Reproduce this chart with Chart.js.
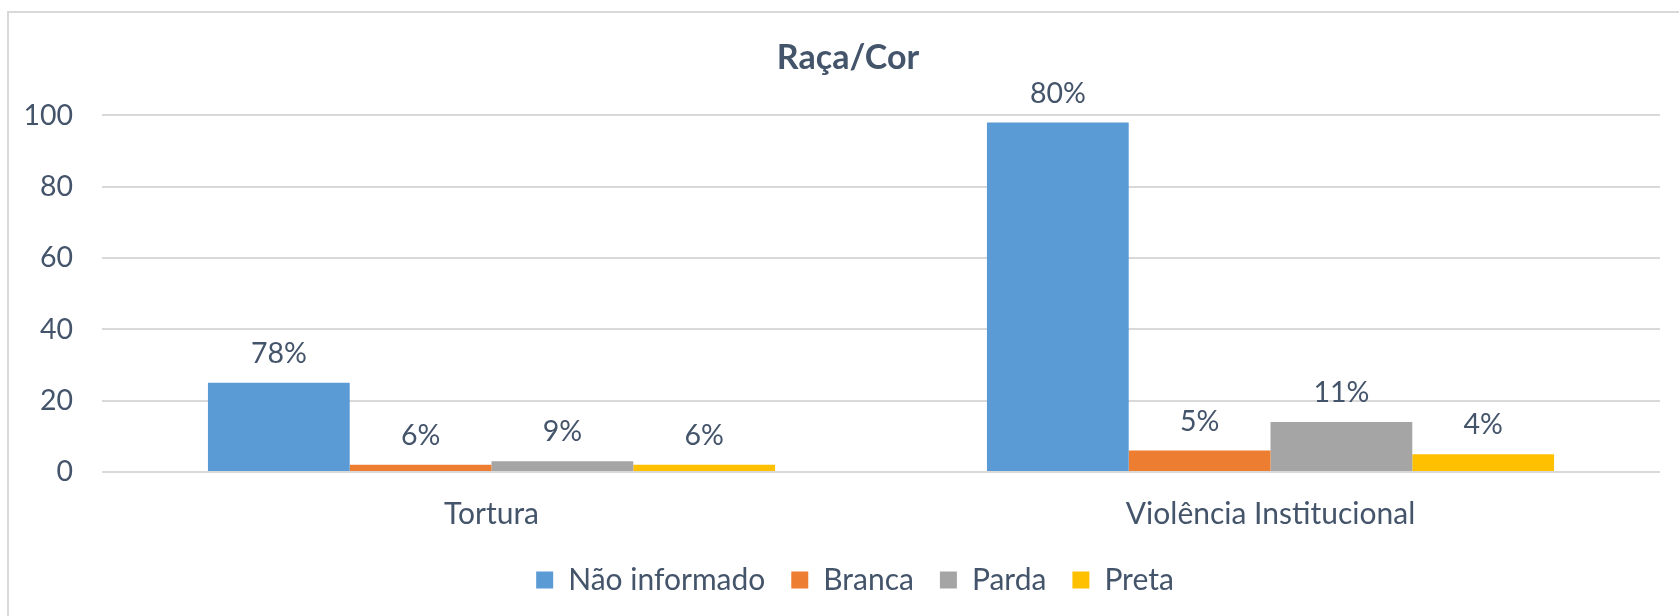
<!DOCTYPE html>
<html>
<head>
<meta charset="utf-8">
<script src="https://cdn.jsdelivr.net/npm/chart.js@4.4.1/dist/chart.umd.min.js"></script>
<style>
  html, body { margin: 0; padding: 0; background: #fff; overflow: hidden; }
  #wrap { position: absolute; left: 0; top: 0; width: 1679px; height: 616px; overflow: hidden; }
  #frame { position: absolute; left: 7px; top: 11px; width: 1672px; height: 605px;
           border-left: 2px solid #d9d9d9; border-top: 2px solid #d9d9d9; box-sizing: border-box; }
  canvas { position: absolute; left: 0; top: 0; }
</style>
</head>
<body>
<div id="wrap">
  <div id="frame"></div>
  <canvas id="chart" width="1679" height="616"></canvas>
</div>
<script>
// Data
const categories = ['Tortura', 'Violência Institucional'];
const seriesNames = ['Não informado', 'Branca', 'Parda', 'Preta'];
const naoInformado = [25, 98];
const branca = [2, 6];
const parda = [3, 14];
const preta = [2, 5];
const pctLabels = [
    ['78%', '80%'],
    ['6%', '5%'],
    ['9%', '11%'],
    ['6%', '4%']
];
const yTicks = [0, 20, 40, 60, 80, 100];
const chartTitle = 'Raça/Cor';

const colors = ['#5B9BD5', '#ED7D31', '#A5A5A5', '#FFC000'];
const textColor = '#44546A';
const fontFamily = 'Lato, "Open Sans", sans-serif';

const seriesValues = [naoInformado, branca, parda, preta];

// percentages over the bars + title (drawn here so it can sit off-centre like the original)
const barLabels = {
    id: 'barLabels',
    afterLayout(chart) {
        // legend in the original sits a bit right of centre
        chart.legend.left += 50;
    },
    afterDatasetsDraw(chart) {
        const ctx = chart.ctx;
        ctx.save();
        ctx.font = '28.5px ' + fontFamily;
        ctx.fillStyle = textColor;
        ctx.textAlign = 'center';
        ctx.textBaseline = 'alphabetic';
        chart.data.datasets.forEach((ds, i) => {
            chart.getDatasetMeta(i).data.forEach((bar, j) => {
                ctx.fillText(pctLabels[i][j], bar.x, bar.y - 20);
            });
        });
        ctx.font = 'bold 34px ' + fontFamily;
        ctx.fillText(chartTitle, 848, 69);
        ctx.restore();
    }
};

new Chart(document.getElementById('chart'), {
    type: 'bar',
    data: {
        labels: categories,
        datasets: seriesNames.map((name, i) => ({
            label: name,
            data: seriesValues[i],
            backgroundColor: colors[i],
            borderWidth: 0,
            categoryPercentage: 0.728,
            barPercentage: 1
        }))
    },
    options: {
        responsive: false,
        animation: false,
        layout: { padding: { left: 0, right: 19, top: 0, bottom: 11 } },
        plugins: {
            title: {
                // space holder only, the visible title is drawn by barLabels
                display: true,
                text: chartTitle,
                color: 'rgba(0,0,0,0)',
                font: { family: fontFamily, size: 32, weight: 'bold' },
                padding: { top: 38, bottom: 39 }
            },
            legend: {
                position: 'bottom',
                labels: {
                    color: textColor,
                    font: { family: fontFamily, size: 30 },
                    boxWidth: 17,
                    boxHeight: 17,
                    padding: 26
                }
            },
            tooltip: { enabled: false }
        },
        scales: {
            x: {
                grid: { display: false },
                border: { display: false },
                ticks: { color: textColor, font: { family: fontFamily, size: 30 }, padding: 16 },
                afterFit(scale) { scale.height -= 9; }
            },
            y: {
                min: 0,
                max: 100,
                afterBuildTicks(scale) { scale.ticks = yTicks.map(v => ({ value: v })); },
                grid: { color: '#D9D9D9', lineWidth: 2, drawTicks: false },
                border: { display: false },
                ticks: { color: textColor, font: { family: fontFamily, size: 28.5 }, padding: 29 },
                afterFit(scale) { scale.width = 102; }
            }
        }
    },
    plugins: [barLabels]
});
</script>
</body>
</html>
